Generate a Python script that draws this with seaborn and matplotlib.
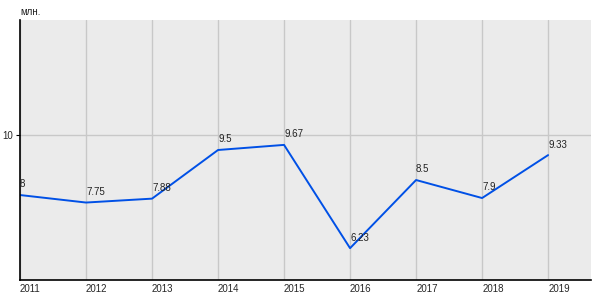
import matplotlib
matplotlib.use("Agg")
import matplotlib.pyplot as plt
import seaborn as sns
import pandas as pd

years = [2011, 2012, 2013, 2014, 2015, 2016, 2017, 2018, 2019]
values = [8.0, 7.75, 7.88, 9.5, 9.67, 6.23, 8.5, 7.9, 9.33]
labels = ["8", "7.75", "7.88", "9.5", "9.67", "6.23", "8.5", "7.9", "9.33"]
unit = "млн."

sns.set_theme(style="darkgrid")
plt.rcParams['font.family'] = ['Liberation Sans', 'DejaVu Sans']

df = pd.DataFrame({"year": years, "value": values})

fig = plt.figure(figsize=(6, 3), dpi=100)
ax = fig.add_axes([20/600, 20/300, 571/600, 260/300])
ax.set_facecolor("#ebebeb")

sns.lineplot(data=df, x="year", y="value", ax=ax, color="#0050e6", linewidth=1.4)

for x, y, t in zip(years, values, labels):
    ax.annotate(t, (x, y), xytext=(0, 4), textcoords="offset points",
                ha="left", va="bottom", fontsize=7, color="#222222")

ax.set_xlim(2011, 2019.65)
ax.set_ylim(5.17, 13.83)
ax.set_xticks(years)
ax.set_xticklabels([str(y) for y in years], ha="left", fontsize=7)
ax.set_yticks([10])
ax.set_yticklabels(["10"], fontsize=7)
ax.grid(True, color="#c8c8c8", linewidth=1)
ax.tick_params(axis="x", length=0, pad=3)
ax.tick_params(axis="y", length=3, width=0.8, color="black", pad=2, left=True)
ax.set_xlabel("")
ax.set_ylabel("")
for s in ["top", "right"]:
    ax.spines[s].set_visible(False)
for s in ["left", "bottom"]:
    ax.spines[s].set_visible(True)
    ax.spines[s].set_color("black")
    ax.spines[s].set_linewidth(1.2)

fig.text(20/600, 1 - 12/300, unit, fontsize=7, ha="left", va="center", color="#222222")

fig.savefig("out.png", dpi=100)
